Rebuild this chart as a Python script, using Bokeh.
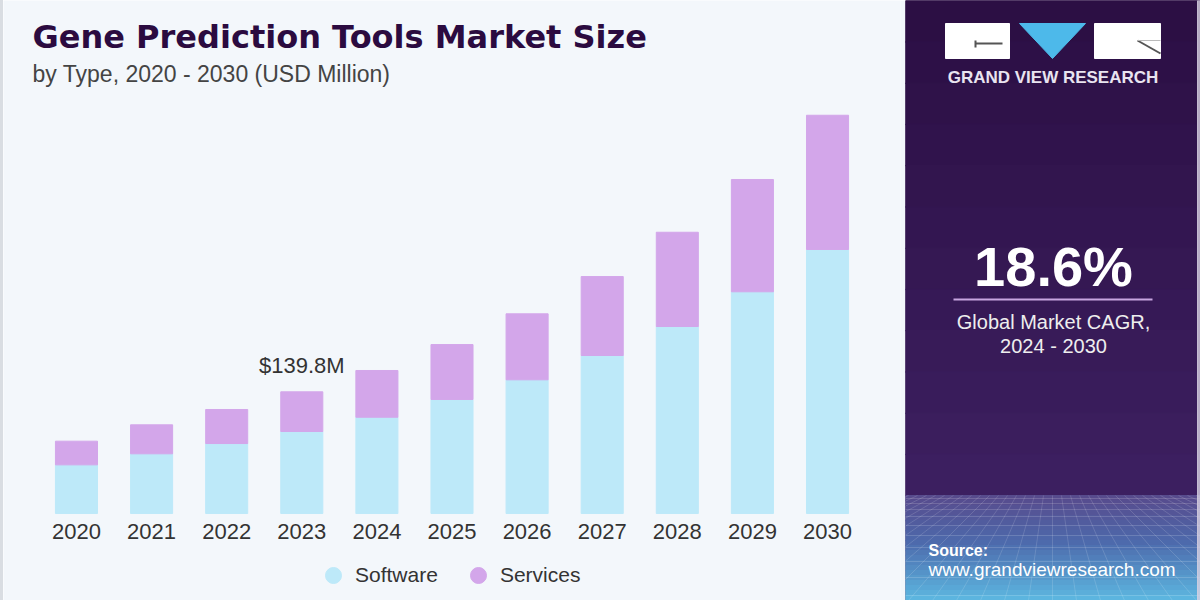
from bokeh.plotting import figure
from bokeh.models import (ColumnDataSource, FactorRange, Range1d, Label, Legend,
                          LegendItem, Div)
from bokeh.layouts import row
from bokeh.embed import file_html
from bokeh.resources import INLINE
from bokeh.core.properties import value

# ---------------- data ----------------
years = ["2020", "2021", "2022", "2023", "2024", "2025", "2026", "2027", "2028", "2029", "2030"]
software = [55.9, 68.6, 80.4, 94.2, 110.6, 131.0, 153.6, 181.5, 214.8, 254.7, 303.3]
services = [27.2, 33.3, 39.1, 45.6, 53.7, 63.1, 75.8, 90.7, 108.3, 129.0, 154.2]
series_names = ["Software", "Services"]
highlight_year = "2023"
cagr_value = "18.6%"
cagr_label = ["Global Market CAGR,", "2024 - 2030"]
title_text = "Gene Prediction Tools Market Size"
subtitle_text = "by Type, 2020 - 2030 (USD Million)"

# ---------------- styles ----------------
BG = "#f3f7fb"
SW = "#bde9f9"
SV = "#d3a6ea"
TXT = "#333333"
FONT = "Liberation Sans"

totals = [a + b for a, b in zip(software, services)]
src = ColumnDataSource(dict(year=years, software=software, services=services, total=totals))

p = figure(width=902, height=600,
           x_range=FactorRange(factors=years, range_padding=0.4717, range_padding_units="absolute"),
           y_range=Range1d(-99.9, 589.3),
           output_backend="svg", toolbar_location=None,
           min_border_left=0, min_border_right=5, min_border_top=0, min_border_bottom=0,
           background_fill_color=BG, border_fill_color=BG, outline_line_color=None,
           x_axis_location=None, y_axis_location=None)
p.grid.visible = False

p.vbar_stack(["software", "services"], x="year", width=0.56, color=[SW, SV], source=src)

# year labels under each bar
p.text(x="year", y=0, text="year", source=src, text_align="center", text_baseline="middle",
       y_offset=18, text_font=value(FONT), text_font_size="22px", text_color=TXT)

hi = years.index(highlight_year)
p.text(x=[years[hi]], y=[totals[hi]], text=["$%.1fM" % totals[hi]],
       text_align="center", text_baseline="middle", y_offset=-26,
       text_font=value(FONT), text_font_size="22px", text_color=TXT)

# legend proxies (not drawn: NaN position)
nan = float("nan")
r_sw = p.scatter(x=[years[0]], y=[nan], marker="circle", color=SW)
r_sv = p.scatter(x=[years[0]], y=[nan], marker="circle", color=SV)
legend = Legend(items=[LegendItem(label=series_names[0], renderers=[r_sw]),
                       LegendItem(label=series_names[1], renderers=[r_sv])],
                location=(310, 5), orientation="horizontal",
                glyph_width=40, glyph_height=40, label_standoff=2, spacing=20,
                padding=0, margin=0, background_fill_alpha=0, border_line_color=None,
                label_text_font=FONT, label_text_font_size="21px", label_text_color=TXT)
p.add_layout(legend)

p.add_layout(Label(x=29, y=564, x_units="screen", y_units="screen", text=title_text,
                   text_font="DejaVu Sans", text_font_style="bold", text_font_size="32px",
                   text_color="#2b0b40", text_baseline="middle"))
p.add_layout(Label(x=29, y=527, x_units="screen", y_units="screen", text=subtitle_text,
                   text_font=FONT, text_font_size="23px", text_color="#444444",
                   text_baseline="middle"))

# ---------------- right panel ----------------
q = figure(width=295, height=600, x_range=Range1d(0, 295), y_range=Range1d(600, 0),
           output_backend="svg", toolbar_location=None, min_border=0,
           background_fill_color="#2e1046", border_fill_color="#2e1046",
           outline_line_color=None, x_axis_location=None, y_axis_location=None)
q.grid.visible = False


def hexmix(c1, c2, t):
    a = [int(c1[i:i + 2], 16) for i in (1, 3, 5)]
    b = [int(c2[i:i + 2], 16) for i in (1, 3, 5)]
    return "#%02x%02x%02x" % tuple(int(round(x + (y - x) * t)) for x, y in zip(a, b))


# purple gradient
n = 12
tops, bots, cols = [], [], []
for i in range(n):
    tops.append(i * 495 / n)
    bots.append((i + 1) * 495 / n + 0.5)
    cols.append(hexmix("#2c0f44", "#3c1f60", i / (n - 1)))
q.quad(left=0, right=295, top=tops, bottom=bots, color=cols)

# blue gradient
n = 21
tops, bots, cols = [], [], []
for i in range(n):
    t = i / (n - 1)
    tops.append(495 + i * 105 / n)
    bots.append(495 + (i + 1) * 105 / n + 0.5)
    if t < 0.45:
        cols.append(hexmix("#574b8d", "#4d6aac", t / 0.45))
    else:
        cols.append(hexmix("#4d6aac", "#5cb5df", (t - 0.45) / 0.55))
q.quad(left=0, right=295, top=tops, bottom=bots, color=cols)

# perspective grid texture
hy = [498, 503, 509, 516, 525, 535, 547, 561, 577, 595]
q.segment(x0=0, x1=295, y0=hy, y1=hy, line_color="white", line_alpha=0.16, line_width=1)
ks = list(range(-16, 17))
q.segment(x0=[147 + k * 9 for k in ks], y0=495, x1=[147 + k * 24 for k in ks], y1=600,
          line_color="white", line_alpha=0.14, line_width=1)

# right edge light strip
q.quad(left=292, right=295, top=0, bottom=600, color="#d8d2e2", alpha=0.8)

# logo
q.quad(left=[40, 189], right=[104, 255], top=[23, 23], bottom=[58, 58], color="white")
q.patch(x=[114, 180, 147], y=[23, 23, 58], color="#4db9ea")
q.line(x=[70, 97], y=[43, 43], line_color="#555555", line_width=2)
q.line(x=[70, 70], y=[40, 47], line_color="#555555", line_width=2)
q.line(x=[232, 255], y=[40, 53], line_color="#555555", line_width=2)
q.line(x=[232, 255], y=[40, 40], line_color="#bbbbbb", line_width=1)
q.add_layout(Label(x=147.5, y=77, text="GRAND VIEW RESEARCH", text_align="center",
                   text_baseline="middle", text_font=FONT, text_font_style="bold",
                   text_font_size="17px", text_color="#e9e4f0"))

# CAGR block
q.add_layout(Label(x=148, y=266, text=cagr_value, text_align="center", text_baseline="middle",
                   text_font=FONT, text_font_style="bold", text_font_size="56px", text_color="white"))
q.line(x=[48, 247], y=[299, 299], line_color="#c7a6e0", line_width=2)
q.add_layout(Label(x=148, y=321, text=cagr_label[0], text_align="center", text_baseline="middle",
                   text_font=FONT, text_font_size="20px", text_color="#eeeeee"))
q.add_layout(Label(x=148, y=345, text=cagr_label[1], text_align="center", text_baseline="middle",
                   text_font=FONT, text_font_size="20px", text_color="#eeeeee"))

# source
q.add_layout(Label(x=23, y=550, text="Source:", text_baseline="middle",
                   text_font=FONT, text_font_style="bold", text_font_size="16px", text_color="white"))
q.add_layout(Label(x=23, y=569, text="www.grandviewresearch.com", text_baseline="middle",
                   text_font=FONT, text_font_size="19px", text_color="white"))

stripe = Div(width=3, height=600, margin=0, styles={"background-color": "#d9dde2"})
layout = row(stripe, p, q, spacing=0)

open("out.html", "w").write(file_html(layout, INLINE))
